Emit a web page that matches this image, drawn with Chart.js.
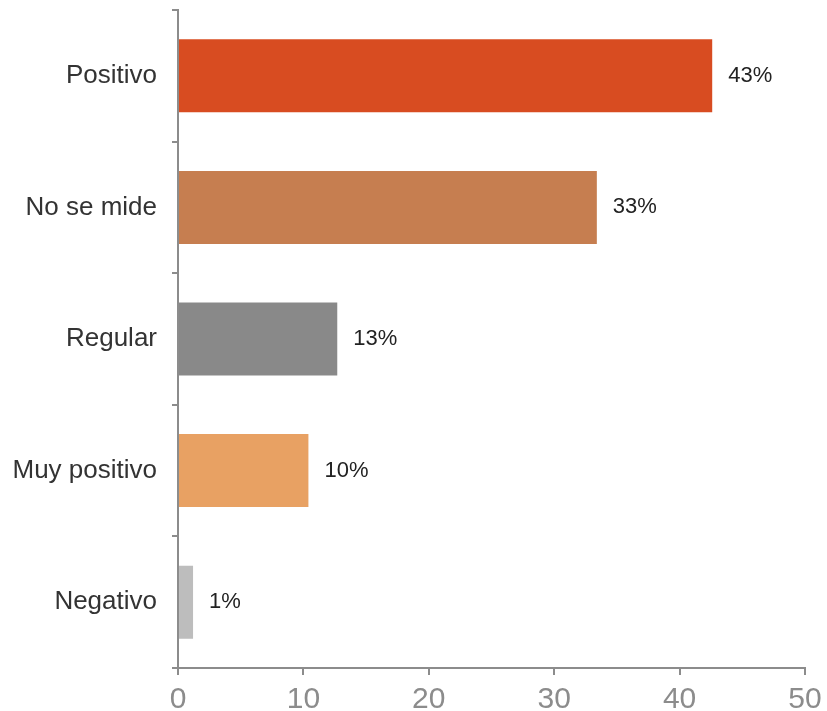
<!DOCTYPE html>
<html>
<head>
<meta charset="utf-8">
<script src="https://cdn.jsdelivr.net/npm/chart.js@4"></script>
<style>
  html, body { margin: 0; padding: 0; background: #fff; }
  #wrap { width: 827px; height: 711px; }
</style>
</head>
<body>
<div id="wrap"><canvas id="chart" width="827" height="711"></canvas></div>
<script>
const categories = ['Positivo', 'No se mide', 'Regular', 'Muy positivo', 'Negativo'];
const values = [42.6, 33.4, 12.7, 10.4, 1.2];
const barColors = ['#d84c21', '#c67e50', '#898989', '#e8a163', '#bdbdbd'];
const xTicks = [0, 10, 20, 30, 40, 50];

const axisGray = '#8c8c8c';

// percentage labels to the right of each bar
const valueLabels = {
  id: 'valueLabels',
  afterDatasetsDraw(chart) {
    const ctx = chart.ctx;
    const meta = chart.getDatasetMeta(0);
    ctx.save();
    ctx.font = '22px "Liberation Sans", Arial, sans-serif';
    ctx.fillStyle = '#222';
    ctx.textAlign = 'left';
    ctx.textBaseline = 'middle';
    meta.data.forEach((bar, i) => {
      ctx.fillText(Math.round(values[i]) + '%', bar.x + 16, bar.y);
    });
    ctx.restore();
  }
};

chart = new Chart(document.getElementById('chart').getContext('2d'), {
  type: 'bar',
  data: {
    labels: categories,
    datasets: [{
      data: values,
      backgroundColor: barColors,
      barPercentage: 0.555,
      categoryPercentage: 1
    }]
  },
  options: {
    indexAxis: 'y',
    responsive: false,
    animation: false,
    layout: { padding: { top: 10, right: 22, left: 0, bottom: 0 } },
    plugins: {
      legend: { display: false },
      tooltip: { enabled: false }
    },
    scales: {
      x: {
        min: 0,
        max: 50,
        afterFit: scale => {
          scale.height = 43;
          scale.paddingLeft = 0;
          scale.paddingRight = 0;
        },
        afterBuildTicks: scale => { scale.ticks = xTicks.map(v => ({ value: v })); },
        border: { color: axisGray, width: 2 },
        grid: { drawOnChartArea: false, drawTicks: true, tickLength: 7, tickColor: axisGray, lineWidth: 2 },
        ticks: {
          color: axisGray,
          padding: 7,
          maxRotation: 0,
          font: { family: '"Liberation Sans", Arial, sans-serif', size: 30 }
        }
      },
      y: {
        afterFit: scale => {
          scale.width = 178;
          // no extra room above/below for the category labels
          scale.paddingTop = 0;
          scale.paddingBottom = 0;
        },
        border: { color: axisGray, width: 2 },
        grid: { drawOnChartArea: false, drawTicks: true, tickLength: 6, tickColor: axisGray, lineWidth: 2, offset: true },
        ticks: {
          color: '#333',
          padding: 15,
          font: { family: '"Liberation Sans", Arial, sans-serif', size: 26 }
        }
      }
    }
  },
  plugins: [valueLabels]
});
</script>
</body>
</html>
